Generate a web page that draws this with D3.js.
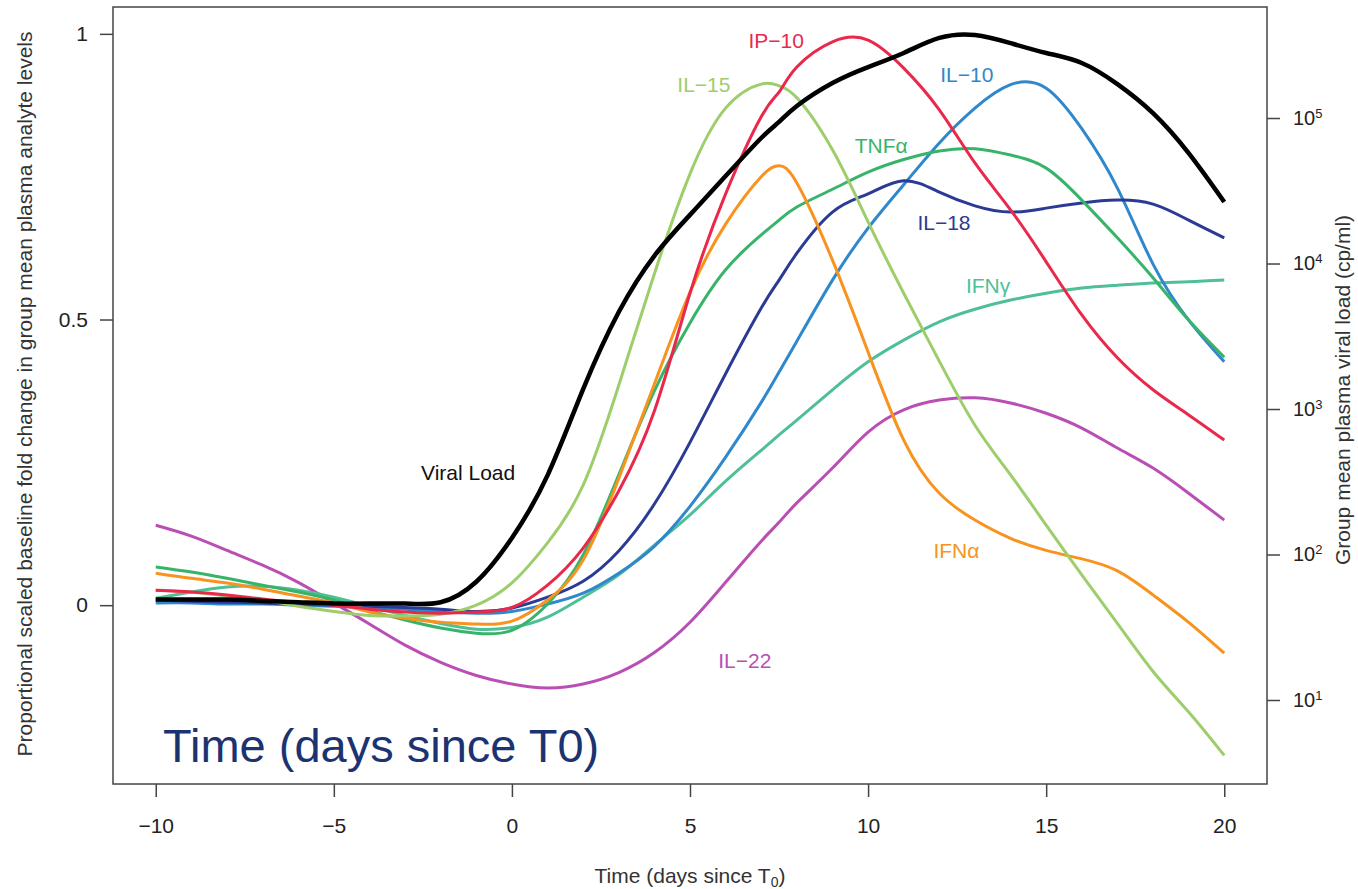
<!DOCTYPE html>
<html>
<head>
<meta charset="utf-8">
<script src="https://cdn.jsdelivr.net/npm/d3@7"></script>
<style>
  body { margin: 0; background: #fff; }
  text { font-family: "Liberation Sans", Arial, Helvetica, sans-serif; }
</style>
</head>
<body>
<div id="chart"></div>
<script>
// Days since T0 (extra sample at 7.5 to catch the early peaks)
const days = [-10, -9, -8, -7, -6, -5, -4, -3, -2, -1, 0, 1, 2, 3, 4, 5, 6, 7, 7.5,
              8, 9, 10, 11, 12, 13, 14, 15, 16, 17, 18, 19, 20];

// Group mean plasma viral load (cp/ml), right axis
const viralLoad = [49, 49, 49, 48, 47, 46, 46, 46, 47, 65, 130, 350, 1370, 4640, 11300, 21600, 39900, 72900, 94000,
                   121000, 174000, 224000, 280000, 355000, 372000, 327000, 280000, 239000, 171000, 108000, 57400, 26500];

// Proportional scaled fold change, left axis
const ip10 = [0.026, 0.023, 0.018, 0.011, 0.005, 0, -0.007, -0.012, -0.014, -0.012, -0.004, 0.035, 0.100, 0.200, 0.340, 0.546, 0.720, 0.855, 0.898,
              0.942, 0.986, 0.989, 0.940, 0.867, 0.774, 0.692, 0.601, 0.508, 0.433, 0.377, 0.333, 0.289];
const il15 = [0.026, 0.023, 0.016, 0.009, -0.002, -0.011, -0.018, -0.019, -0.016, 0, 0.039, 0.109, 0.210, 0.385, 0.580, 0.755, 0.870, 0.912, 0.909,
              0.888, 0.797, 0.671, 0.546, 0.427, 0.315, 0.228, 0.140, 0.053, -0.032, -0.116, -0.187, -0.263];
const ifna = [0.056, 0.047, 0.039, 0.028, 0.016, 0.004, -0.012, -0.023, -0.030, -0.033, -0.028, 0.009, 0.079, 0.222, 0.387, 0.548, 0.667, 0.750, 0.769,
              0.739, 0.604, 0.443, 0.289, 0.196, 0.149, 0.117, 0.096, 0.081, 0.060, 0.018, -0.030, -0.084];
const tnfa = [0.067, 0.058, 0.047, 0.035, 0.023, 0.009, -0.009, -0.026, -0.040, -0.049, -0.044, 0.002, 0.088, 0.228, 0.375, 0.494, 0.587, 0.648, 0.674,
              0.697, 0.728, 0.758, 0.780, 0.795, 0.799, 0.788, 0.765, 0.709, 0.643, 0.573, 0.499, 0.434];
const il18 = [0.009, 0.007, 0.005, 0.004, 0.002, 0, -0.002, -0.004, -0.007, -0.011, -0.005, 0.014, 0.042, 0.095, 0.177, 0.285, 0.405, 0.520, 0.569,
              0.616, 0.688, 0.720, 0.743, 0.723, 0.699, 0.688, 0.695, 0.704, 0.709, 0.702, 0.674, 0.643];
const il10 = [0.004, 0.004, 0.002, 0.002, 0, -0.002, -0.004, -0.007, -0.011, -0.014, -0.011, 0.002, 0.021, 0.056, 0.103, 0.173, 0.259, 0.355, 0.408,
              0.462, 0.569, 0.660, 0.736, 0.809, 0.870, 0.911, 0.905, 0.834, 0.730, 0.597, 0.499, 0.426];
const ifng = [0.012, 0.023, 0.032, 0.033, 0.026, 0.014, -0.002, -0.018, -0.032, -0.042, -0.039, -0.021, 0.014, 0.053, 0.105, 0.158, 0.217, 0.271, 0.298,
              0.324, 0.377, 0.426, 0.464, 0.496, 0.518, 0.534, 0.546, 0.555, 0.560, 0.564, 0.566, 0.569];
const il22 = [0.140, 0.121, 0.096, 0.070, 0.040, 0.004, -0.033, -0.070, -0.100, -0.123, -0.138, -0.145, -0.138, -0.118, -0.083, -0.030, 0.040, 0.112, 0.145,
              0.179, 0.240, 0.303, 0.342, 0.359, 0.363, 0.354, 0.336, 0.310, 0.275, 0.240, 0.196, 0.149];

const analyteNames  = ["IL\u221222", "IFN\u03b3", "IL\u221210", "IL\u221218", "TNF\u03b1", "IFN\u03b1", "IL\u221215", "IP\u221210"];
const analyteValues = [il22, ifng, il10, il18, tnfa, ifna, il15, ip10];
const analyteColors = ["#b94fb4", "#4fbf97", "#2f88cb", "#2b3a94", "#38b46a", "#f7931e", "#9ecd6b", "#e9284c"];

// label anchors in data units (day, value)
const labelDays   = [6.54, 13.37, 12.77, 12.13, 10.37, 12.48, 5.39, 7.42];
const labelValues = [-0.096, 0.559, 0.928, 0.669, 0.804, 0.096, 0.912, 0.988];
const viralLabel = {day: -1.23, value: 0.233};

const xTicks = [-10, -5, 0, 5, 10, 15, 20];
const leftTicks = [0, 0.5, 1];
const rightTicks = [10, 100, 1000, 10000, 100000];

// Layout
const margin = {top: 7, right: 91, bottom: 105, left: 113},
    width = 1358 - margin.left - margin.right,
    height = 889 - margin.top - margin.bottom;

const svg = d3.select("#chart")
    .append("svg")
    .attr("width", 1358)
    .attr("height", 889);

const g = svg.append("g")
    .attr("transform", `translate(${margin.left},${margin.top})`);

const x = d3.scaleLinear().domain([-11.2, 21.2]).range([0, width]);
const yL = d3.scaleLinear().domain([-0.313, 1.047]).range([height, 0]);
const yR = d3.scaleLog().domain([Math.pow(10, 0.4227), Math.pow(10, 5.763)]).range([height, 0]);

// Bottom axis
const xAxis = g.append("g")
    .attr("transform", `translate(0,${height})`)
    .call(d3.axisBottom(x).tickValues(xTicks).tickSize(13).tickPadding(21));
xAxis.select(".domain").remove();

// Left axis
const lAxis = g.append("g")
    .call(d3.axisLeft(yL).tickValues(leftTicks).tickFormat(d => String(d)).tickSize(13).tickPadding(12));
lAxis.select(".domain").remove();

// Right axis (log), labels as 10^n
const rAxis = g.append("g")
    .attr("transform", `translate(${width},0)`)
    .call(d3.axisRight(yR).tickValues(rightTicks).tickFormat("").tickSize(13).tickPadding(13));
rAxis.select(".domain").remove();
rAxis.selectAll(".tick text").each(function(d) {
    const t = d3.select(this);
    t.append("tspan").text("10");
    t.append("tspan").text(Math.round(Math.log10(d)))
        .attr("dy", "-0.55em")
        .style("font-size", "13px");
});

[xAxis, lAxis, rAxis].forEach(a => {
    a.selectAll(".tick line").attr("stroke", "#444").attr("stroke-width", 1.5);
    a.selectAll(".tick text").attr("fill", "#222").style("font-size", "21px");
});
rAxis.selectAll(".tick text").style("font-size", "20px");

// Frame
g.append("rect")
    .attr("x", 0).attr("y", 0)
    .attr("width", width).attr("height", height)
    .attr("fill", "none")
    .attr("stroke", "#444")
    .attr("stroke-width", 1.5);

// Analyte lines
const line = d3.line()
    .x((d, i) => x(days[i]))
    .y(d => yL(d))
    .curve(d3.curveNatural);

analyteValues.forEach((vals, k) => {
    g.append("path")
        .datum(vals)
        .attr("fill", "none")
        .attr("stroke", analyteColors[k])
        .attr("stroke-width", 3)
        .attr("d", line);
});

// Viral load line on the log axis
const vlLine = d3.line()
    .x((d, i) => x(days[i]))
    .y(d => yR(d))
    .curve(d3.curveNatural);

g.append("path")
    .datum(viralLoad)
    .attr("fill", "none")
    .attr("stroke", "#000")
    .attr("stroke-width", 4.5)
    .attr("d", vlLine);

// Series labels
analyteNames.forEach((name, k) => {
    g.append("text")
        .attr("x", x(labelDays[k]))
        .attr("y", yL(labelValues[k]))
        .attr("text-anchor", "middle")
        .attr("dominant-baseline", "central")
        .attr("fill", analyteColors[k])
        .style("font-size", "21px")
        .text(name);
});

g.append("text")
    .attr("x", x(viralLabel.day))
    .attr("y", yL(viralLabel.value))
    .attr("text-anchor", "middle")
    .attr("dominant-baseline", "central")
    .attr("fill", "#111")
    .style("font-size", "21px")
    .text("Viral Load");

// Axis titles
svg.append("text")
    .attr("transform", "translate(32,394) rotate(-90)")
    .attr("text-anchor", "middle")
    .attr("fill", "#333")
    .style("font-size", "21px")
    .text("Proportional scaled baseline fold change in group mean plasma analyte levels");

svg.append("text")
    .attr("transform", "translate(1350,390) rotate(-90)")
    .attr("text-anchor", "middle")
    .attr("fill", "#333")
    .style("font-size", "21px")
    .text("Group mean plasma viral load (cp/ml)");

const xTitle = svg.append("text")
    .attr("x", 690)
    .attr("y", 883)
    .attr("text-anchor", "middle")
    .attr("fill", "#333")
    .style("font-size", "21px");
xTitle.append("tspan").text("Time (days since T");
xTitle.append("tspan").text("0").attr("dy", 4).style("font-size", "14px");
xTitle.append("tspan").text(")").attr("dy", -4);

// Overlaid caption
svg.append("text")
    .attr("x", 163)
    .attr("y", 762)
    .attr("fill", "#1c3372")
    .style("font-size", "47px")
    .text("Time (days since T0)");
</script>
</body>
</html>
